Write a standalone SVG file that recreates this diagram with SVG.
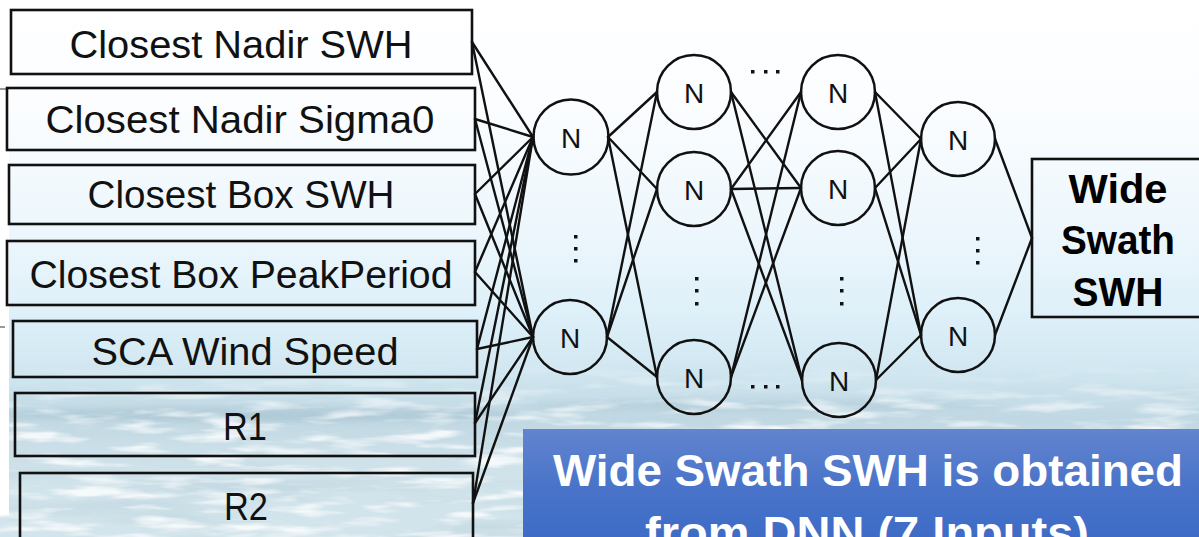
<svg xmlns="http://www.w3.org/2000/svg" width="1199" height="537" viewBox="0 0 1199 537">
  <defs>
    <style>
      .box { fill: none; stroke: #111; stroke-width: 2.6; }
      .lbl { font-family: "Liberation Sans", Arial, sans-serif; font-size: 38px; fill: #111; text-anchor: middle; }
      .node { fill: none; stroke: #111; stroke-width: 2.5; }
      .ntxt { font-family: "Liberation Sans", Arial, sans-serif; font-size: 28px; fill: #111; text-anchor: middle; }
      .out { font-family: "Liberation Sans", Arial, sans-serif; font-size: 41px; font-weight: bold; fill: #000; text-anchor: middle; }
      .note { font-family: "Liberation Sans", Arial, sans-serif; font-size: 44px; font-weight: bold; fill: #fff; text-anchor: middle; }
      .dot { fill: #111; }
      #connectors line { stroke: #111; stroke-width: 2.4; stroke-linecap: round; }
    </style>
    <linearGradient id="sky" x1="0" y1="0" x2="0" y2="537" gradientUnits="userSpaceOnUse">
      <stop offset="0" stop-color="#ffffff"/>
      <stop offset="0.2" stop-color="#fbfdff"/>
      <stop offset="0.45" stop-color="#ebf6fc"/>
      <stop offset="0.6" stop-color="#dceff8"/>
      <stop offset="0.7" stop-color="#d0e6f0"/>
      <stop offset="0.78" stop-color="#c0d8e3"/>
      <stop offset="0.86" stop-color="#cfe2ea"/>
      <stop offset="1" stop-color="#d3e5ec"/>
    </linearGradient>
    <linearGradient id="seaFade" x1="0" y1="360" x2="0" y2="430" gradientUnits="userSpaceOnUse">
      <stop offset="0" stop-color="#fff" stop-opacity="0"/>
      <stop offset="1" stop-color="#fff" stop-opacity="1"/>
    </linearGradient>
    <mask id="seaMask" maskUnits="userSpaceOnUse" x="0" y="0" width="1199" height="537">
      <rect x="0" y="360" width="1199" height="177" fill="url(#seaFade)"/>
    </mask>
    <filter id="waves" filterUnits="userSpaceOnUse" x="0" y="360" width="1199" height="177">
      <feTurbulence type="fractalNoise" baseFrequency="0.004 0.05" numOctaves="4" seed="7"/>
      <feColorMatrix type="matrix" values="0 0 0 0 0.56  0 0 0 0 0.70  0 0 0 0 0.77  0 0 0 3.2 -1.45"/>
    </filter>
    <filter id="foam" filterUnits="userSpaceOnUse" x="0" y="360" width="1199" height="177">
      <feTurbulence type="fractalNoise" baseFrequency="0.015 0.09" numOctaves="3" seed="12"/>
      <feColorMatrix type="matrix" values="0 0 0 0 1  0 0 0 0 1  0 0 0 0 1  0 0 0 3.5 -1.7"/>
    </filter>
    <filter id="soft" x="-20%" y="-200%" width="140%" height="500%">
      <feGaussianBlur stdDeviation="6 3"/>
    </filter>
    <linearGradient id="noteFill" x1="0" y1="0" x2="0" y2="1">
      <stop offset="0" stop-color="#6384cf"/>
      <stop offset="0.5" stop-color="#4a74c9"/>
      <stop offset="1" stop-color="#3c6bc6"/>
    </linearGradient>
  </defs>

  <!-- backdrop: pale sky fading into sea -->
  <rect x="0" y="0" width="1199" height="537" fill="url(#sky)"/>
  <g mask="url(#seaMask)">
    <rect x="0" y="360" width="1199" height="177" filter="url(#waves)"/>
    <ellipse cx="260" cy="414" rx="260" ry="7" fill="#8fb1c2" opacity="0.45" filter="url(#soft)"/>
    <ellipse cx="760" cy="405" rx="240" ry="6" fill="#95b6c6" opacity="0.4" filter="url(#soft)"/>
    <rect x="0" y="360" width="1199" height="177" filter="url(#foam)" opacity="0.8"/>
  </g>
  <rect x="0" y="0" width="9" height="515" fill="#ffffff"/>
  <line x1="0" y1="89" x2="6" y2="89" stroke="#555" stroke-width="1.2"/>
  <line x1="0" y1="327" x2="5" y2="327" stroke="#555" stroke-width="1.2"/>

  <!-- connectors -->
  <g id="connectors">
    <!-- inputs to first hidden layer -->
    <line x1="472" y1="42" x2="533" y2="137"/>
    <line x1="472" y1="42" x2="533" y2="337"/>
    <line x1="475" y1="119" x2="533" y2="137"/>
    <line x1="475" y1="119" x2="533" y2="337"/>
    <line x1="475" y1="194" x2="533" y2="137"/>
    <line x1="475" y1="194" x2="533" y2="337"/>
    <line x1="475" y1="272" x2="533" y2="137"/>
    <line x1="475" y1="272" x2="533" y2="337"/>
    <line x1="477" y1="349" x2="533" y2="137"/>
    <line x1="477" y1="349" x2="533" y2="337"/>
    <line x1="475" y1="423" x2="533" y2="137"/>
    <line x1="475" y1="423" x2="533" y2="337"/>
    <line x1="473" y1="503" x2="533" y2="137"/>
    <line x1="473" y1="503" x2="533" y2="337"/>
    <!-- layer 1 to layer 2 -->
    <line x1="608" y1="137" x2="657" y2="92"/>
    <line x1="608" y1="137" x2="657" y2="189"/>
    <line x1="608" y1="137" x2="657" y2="377"/>
    <line x1="607" y1="337" x2="657" y2="92"/>
    <line x1="607" y1="337" x2="657" y2="189"/>
    <line x1="607" y1="337" x2="657" y2="377"/>
    <!-- layer 2 to layer 3 -->
    <line x1="731" y1="92" x2="801" y2="188"/>
    <line x1="731" y1="92" x2="802" y2="380"/>
    <line x1="731" y1="189" x2="801" y2="92"/>
    <line x1="731" y1="189" x2="801" y2="188"/>
    <line x1="731" y1="189" x2="802" y2="380"/>
    <line x1="731" y1="377" x2="801" y2="92"/>
    <line x1="731" y1="377" x2="801" y2="188"/>
    <!-- layer 3 to layer 4 -->
    <line x1="875" y1="92" x2="921" y2="139"/>
    <line x1="875" y1="92" x2="921" y2="335"/>
    <line x1="875" y1="188" x2="921" y2="139"/>
    <line x1="875" y1="188" x2="921" y2="335"/>
    <line x1="876" y1="380" x2="921" y2="139"/>
    <line x1="876" y1="380" x2="921" y2="335"/>
    <!-- layer 4 to output -->
    <line x1="995" y1="139" x2="1032" y2="238"/>
    <line x1="995" y1="335" x2="1032" y2="238"/>
  </g>

  <!-- input features -->
  <g id="in-nadir-swh">
    <rect class="box" x="11" y="10" width="461" height="64"/>
    <text class="lbl" x="241" y="58" textLength="343" lengthAdjust="spacingAndGlyphs">Closest Nadir SWH</text>
  </g>
  <g id="in-nadir-sigma0">
    <rect class="box" x="7" y="88" width="468" height="62"/>
    <text class="lbl" x="240" y="133" textLength="389" lengthAdjust="spacingAndGlyphs">Closest Nadir Sigma0</text>
  </g>
  <g id="in-box-swh">
    <rect class="box" x="9" y="165" width="466" height="59"/>
    <text class="lbl" x="241" y="208" textLength="307" lengthAdjust="spacingAndGlyphs">Closest Box SWH</text>
  </g>
  <g id="in-box-peakperiod">
    <rect class="box" x="7" y="241" width="468" height="64"/>
    <text class="lbl" x="241" y="288" textLength="423" lengthAdjust="spacingAndGlyphs">Closest Box PeakPeriod</text>
  </g>
  <g id="in-sca-wind">
    <rect class="box" x="13" y="321" width="464" height="56"/>
    <text class="lbl" x="245" y="365" textLength="307" lengthAdjust="spacingAndGlyphs">SCA Wind Speed</text>
  </g>
  <g id="in-r1">
    <rect class="box" x="15" y="393" width="460" height="63"/>
    <text class="lbl" x="245" y="440" textLength="44" lengthAdjust="spacingAndGlyphs">R1</text>
  </g>
  <g id="in-r2">
    <rect class="box" x="20" y="473" width="453" height="70"/>
    <text class="lbl" x="246" y="520" textLength="44" lengthAdjust="spacingAndGlyphs">R2</text>
  </g>

  <!-- hidden layer 1 -->
  <g id="h1-top"><circle class="node" cx="571" cy="137" r="37.5"/><text class="ntxt" x="571" y="148">N</text></g>
  <g id="h1-bottom"><circle class="node" cx="570" cy="337" r="37"/><text class="ntxt" x="570" y="348">N</text></g>
  <g id="h1-more">
    <rect class="dot" x="574" y="235" width="3.5" height="3.5"/>
    <rect class="dot" x="574" y="247" width="3.5" height="3.5"/>
    <rect class="dot" x="574" y="259" width="3.5" height="3.5"/>
  </g>

  <!-- hidden layer 2 -->
  <g id="h2-top"><circle class="node" cx="694" cy="92" r="37"/><text class="ntxt" x="694" y="103">N</text></g>
  <g id="h2-mid"><circle class="node" cx="694" cy="189" r="37"/><text class="ntxt" x="694" y="200">N</text></g>
  <g id="h2-bottom"><circle class="node" cx="694" cy="377" r="37"/><text class="ntxt" x="694" y="388">N</text></g>
  <g id="h2-more">
    <rect class="dot" x="695" y="277" width="3.5" height="3.5"/>
    <rect class="dot" x="695" y="289" width="3.5" height="3.5"/>
    <rect class="dot" x="695" y="302" width="3.5" height="3.5"/>
  </g>

  <!-- layers elided between 2 and 3 -->
  <g id="skip-top">
    <rect class="dot" x="751" y="70" width="3.5" height="3.5"/>
    <rect class="dot" x="764" y="70" width="3.5" height="3.5"/>
    <rect class="dot" x="776" y="70" width="3.5" height="3.5"/>
  </g>
  <g id="skip-bottom">
    <rect class="dot" x="751" y="385" width="3.5" height="3.5"/>
    <rect class="dot" x="764" y="385" width="3.5" height="3.5"/>
    <rect class="dot" x="776" y="385" width="3.5" height="3.5"/>
  </g>

  <!-- hidden layer 3 -->
  <g id="h3-top"><circle class="node" cx="838" cy="92" r="37"/><text class="ntxt" x="838" y="103">N</text></g>
  <g id="h3-mid"><circle class="node" cx="838" cy="188" r="37"/><text class="ntxt" x="838" y="199">N</text></g>
  <g id="h3-bottom"><circle class="node" cx="839" cy="380" r="37"/><text class="ntxt" x="839" y="391">N</text></g>
  <g id="h3-more">
    <rect class="dot" x="840" y="277" width="3.5" height="3.5"/>
    <rect class="dot" x="840" y="289" width="3.5" height="3.5"/>
    <rect class="dot" x="840" y="302" width="3.5" height="3.5"/>
  </g>

  <!-- hidden layer 4 -->
  <g id="h4-top"><circle class="node" cx="958" cy="139" r="37"/><text class="ntxt" x="958" y="150">N</text></g>
  <g id="h4-bottom"><circle class="node" cx="958" cy="335" r="37"/><text class="ntxt" x="958" y="346">N</text></g>
  <g id="h4-more">
    <rect class="dot" x="976" y="237" width="3.5" height="3.5"/>
    <rect class="dot" x="976" y="249" width="3.5" height="3.5"/>
    <rect class="dot" x="976" y="261" width="3.5" height="3.5"/>
  </g>

  <!-- output -->
  <g id="output">
    <rect class="box" x="1032" y="159" width="180" height="158"/>
    <text class="out" x="1118" y="203" textLength="99" lengthAdjust="spacingAndGlyphs">Wide</text>
    <text class="out" x="1118" y="254" textLength="114" lengthAdjust="spacingAndGlyphs">Swath</text>
    <text class="out" x="1118" y="306" textLength="91" lengthAdjust="spacingAndGlyphs">SWH</text>
  </g>

  <!-- caption banner -->
  <g id="caption">
    <rect x="523" y="429" width="680" height="112" fill="url(#noteFill)"/>
    <text class="note" x="868" y="486" textLength="630" lengthAdjust="spacingAndGlyphs">Wide Swath SWH is obtained</text>
    <text class="note" x="867" y="548" textLength="444" lengthAdjust="spacingAndGlyphs">from DNN (7 Inputs)</text>
  </g>
</svg>
